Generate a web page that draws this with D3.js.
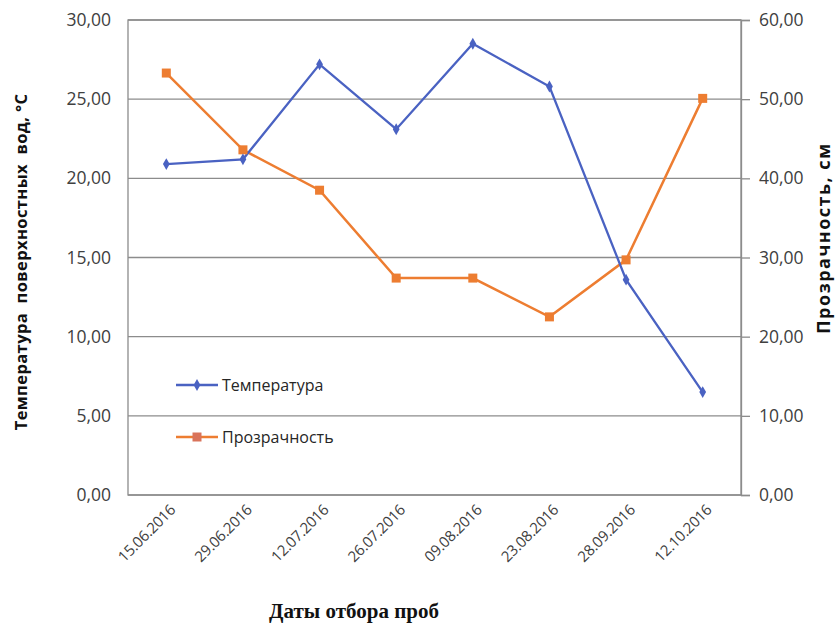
<!DOCTYPE html>
<html>
<head>
<meta charset="utf-8">
<script src="https://cdn.jsdelivr.net/npm/d3@7/dist/d3.min.js"></script>
<style>
  body { margin: 0; background: #fff; }
  svg { display: block; }
</style>
</head>
<body>
<div id="chart"></div>
<script>
// data
var dates = ["15.06.2016", "29.06.2016", "12.07.2016", "26.07.2016", "09.08.2016", "23.08.2016", "28.09.2016", "12.10.2016"];
var temperature = [20.9, 21.2, 27.2, 23.1, 28.5, 25.8, 13.6, 6.5];
var transparency = [53.3, 43.6, 38.5, 27.4, 27.4, 22.5, 29.7, 50.1];
var leftTicks = [0, 5, 10, 15, 20, 25, 30];
var rightTicks = [0, 10, 20, 30, 40, 50, 60];

var svgWidth = 837, svgHeight = 625;
var margin = { top: 20, right: 96, bottom: 130, left: 128 };
var width = svgWidth - margin.left - margin.right;
var height = svgHeight - margin.top - margin.bottom;

var blue = "#4a62c2", orange = "#ed7d31";
var fmt = function(d) { return d3.format(".2f")(d).replace(".", ","); };

var svg = d3.select("#chart").append("svg")
    .attr("width", svgWidth)
    .attr("height", svgHeight);

var chartGroup = svg.append("g")
    .attr("transform", `translate(${margin.left},${margin.top})`);

// scales
var xScale = d3.scaleBand().domain(dates).range([0, width]);
var yLeft = d3.scaleLinear().domain([0, 30]).range([height, 0]);
var yRight = d3.scaleLinear().domain([0, 60]).range([height, 0]);
var xPos = function(d) { return xScale(d) + xScale.bandwidth() / 2; };

// gridlines
chartGroup.append("g")
    .selectAll("line")
    .data(leftTicks)
    .enter()
    .append("line")
    .attr("x1", 0)
    .attr("x2", width)
    .attr("y1", d => yLeft(d))
    .attr("y2", d => yLeft(d))
    .attr("stroke", "#8c8c8c")
    .attr("stroke-width", 1.3);

// plot border
chartGroup.append("rect")
    .attr("width", width)
    .attr("height", height)
    .attr("fill", "none")
    .attr("stroke", "#8c8c8c")
    .attr("stroke-width", 1.3);

// left axis
var leftAxis = chartGroup.append("g")
    .call(d3.axisLeft(yLeft).tickValues(leftTicks).tickFormat(fmt).tickSize(0).tickPadding(17));
leftAxis.select(".domain").remove();
leftAxis.selectAll("text")
    .attr("font-family", "Open Sans, sans-serif")
    .attr("font-size", 17.5)
    .attr("fill", "#404040");

// right axis
var rightAxis = chartGroup.append("g")
    .attr("transform", `translate(${width},0)`)
    .call(d3.axisRight(yRight).tickValues(rightTicks).tickFormat(fmt).tickSize(9).tickPadding(9));
rightAxis.select(".domain").attr("stroke", "#8c8c8c").attr("stroke-width", 1.3);
rightAxis.selectAll("line").attr("stroke", "#8c8c8c").attr("stroke-width", 1.3);
rightAxis.selectAll("text")
    .attr("font-family", "Open Sans, sans-serif")
    .attr("font-size", 17.5)
    .attr("fill", "#404040");

// x axis labels
var xAxis = chartGroup.append("g")
    .attr("transform", `translate(0,${height})`)
    .call(d3.axisBottom(xScale).tickSize(0).tickPadding(0));
xAxis.select(".domain").remove();
xAxis.selectAll("text")
    .attr("font-family", "Open Sans, sans-serif")
    .attr("font-size", 15)
    .attr("letter-spacing", -0.3)
    .attr("fill", "#404040")
    .attr("text-anchor", "end")
    .attr("dy", 0)
    .attr("transform", "translate(10,16) rotate(-45)");

// lines
var tempLine = d3.line()
    .x((d, i) => xPos(dates[i]))
    .y(d => yLeft(d));
var transLine = d3.line()
    .x((d, i) => xPos(dates[i]))
    .y(d => yRight(d));

chartGroup.append("path")
    .datum(transparency)
    .attr("d", transLine)
    .attr("fill", "none")
    .attr("stroke", orange)
    .attr("stroke-width", 2.5);

chartGroup.append("path")
    .datum(temperature)
    .attr("d", tempLine)
    .attr("fill", "none")
    .attr("stroke", blue)
    .attr("stroke-width", 2.3);

// markers
chartGroup.append("g")
    .selectAll("rect")
    .data(transparency)
    .enter()
    .append("rect")
    .attr("x", (d, i) => xPos(dates[i]) - 4.5)
    .attr("y", d => yRight(d) - 4.5)
    .attr("width", 9)
    .attr("height", 9)
    .attr("fill", orange);

chartGroup.append("g")
    .selectAll("path")
    .data(temperature)
    .enter()
    .append("path")
    .attr("d", d3.symbol().type(d3.symbolDiamond).size(40))
    .attr("transform", (d, i) => `translate(${xPos(dates[i])},${yLeft(d)})`)
    .attr("fill", blue);

// legend
var legendItems = [
    { name: "Температура", color: blue, kind: "diamond" },
    { name: "Прозрачность", color: orange, kind: "square" }
];
var legend = chartGroup.selectAll(".legend")
    .data(legendItems)
    .enter()
    .append("g")
    .attr("class", "legend")
    .attr("transform", (d, i) => `translate(48,${365 + i * 52})`);
legend.append("line")
    .attr("x1", 0).attr("x2", 42)
    .attr("stroke", d => d.color)
    .attr("stroke-width", 2.3);
legend.append("path")
    .attr("transform", "translate(21,0)")
    .attr("d", d => d.kind === "diamond"
        ? d3.symbol().type(d3.symbolDiamond).size(40)()
        : d3.symbol().type(d3.symbolSquare).size(81)())
    .attr("fill", d => d.kind === "diamond" ? blue : "#d9735a");
legend.append("text")
    .attr("x", 46)
    .attr("dy", "0.35em")
    .attr("font-family", "Open Sans, sans-serif")
    .attr("font-size", 16)
    .attr("fill", "#262626")
    .text(d => d.name);

// axis titles
svg.append("text")
    .attr("transform", "translate(27,262) rotate(-90)")
    .attr("text-anchor", "middle")
    .attr("font-family", "Open Sans, sans-serif")
    .attr("font-weight", "bold")
    .attr("font-size", 16.5)
    .attr("letter-spacing", 0.4)
    .attr("fill", "#111")
    .attr("xml:space", "preserve")
    .text("Температура  поверхностных  вод, °С");

svg.append("text")
    .attr("transform", "translate(830,238) rotate(-90)")
    .attr("text-anchor", "middle")
    .attr("font-family", "Open Sans, sans-serif")
    .attr("font-weight", "bold")
    .attr("font-size", 18)
    .attr("letter-spacing", 1.5)
    .attr("fill", "#111")
    .text("Прозрачность, см");

svg.append("text")
    .attr("x", 354)
    .attr("y", 618)
    .attr("text-anchor", "middle")
    .attr("font-family", "Liberation Serif, serif")
    .attr("font-weight", "bold")
    .attr("font-size", 21)
    .attr("fill", "#111")
    .text("Даты отбора проб");
</script>
</body>
</html>
